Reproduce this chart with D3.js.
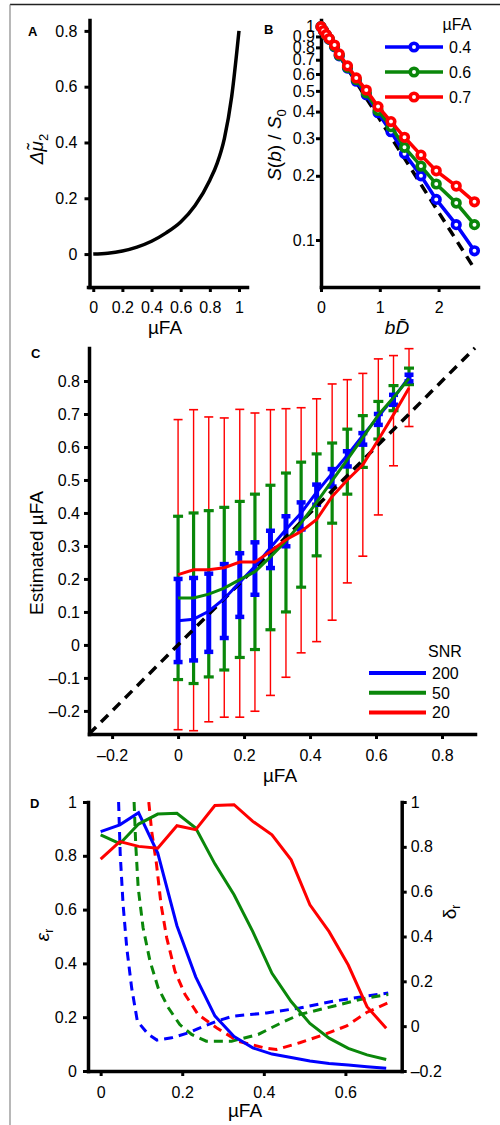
<!DOCTYPE html>
<html><head><meta charset="utf-8">
<script src="https://cdn.jsdelivr.net/npm/d3@7"></script>
<style>
body{margin:0;background:#fff}
svg{display:block}
text{font-family:"Liberation Sans",Arial,Helvetica,sans-serif;fill:#000}
</style>
</head><body>
<svg id="fig" width="500" height="1125"></svg>
<script>
// ---------------- DATA ----------------
// Panel A
const aMuFA = [0, 0.1, 0.2, 0.3, 0.4, 0.5, 0.6, 0.7, 0.8, 0.85, 0.9, 0.95, 1.0];
const aDeltaMu = [0, 0.003, 0.011, 0.025, 0.046, 0.076, 0.115, 0.175, 0.265, 0.325, 0.415, 0.565, 0.8];
const aXTicks = [0, 0.2, 0.4, 0.6, 0.8, 1];
const aXLabels = ["0", "0.2", "0.4", "0.6", "0.8", "1"];
const aYTicks = [0, 0.2, 0.4, 0.6, 0.8];
const aYLabels = ["0", "0.2", "0.4", "0.6", "0.8"];

// Panel B
const bBD = [0, 0.04, 0.09, 0.14, 0.23, 0.31, 0.45, 0.6, 0.77, 0.97, 1.19, 1.42, 1.7, 1.96, 2.3, 2.61];
const bS04 = [1, 0.96, 0.915, 0.872, 0.805, 0.73, 0.64, 0.555, 0.48, 0.395, 0.322, 0.254, 0.2, 0.155, 0.118, 0.089];
const bS06 = [1, 0.96, 0.915, 0.875, 0.81, 0.735, 0.645, 0.565, 0.49, 0.405, 0.34, 0.272, 0.222, 0.183, 0.149, 0.118];
const bS07 = [1, 0.96, 0.92, 0.88, 0.82, 0.745, 0.655, 0.575, 0.505, 0.422, 0.359, 0.303, 0.25, 0.211, 0.179, 0.151];
const bRefBD = [0, 2.6];
const bRefS = [1, 0.074];
const bLegend = ["0.4", "0.6", "0.7"];
const bXTicks = [0, 1, 2];
const bXLabels = ["0", "1", "2"];
const bYTicks = [1, 0.9, 0.8, 0.7, 0.6, 0.5, 0.4, 0.3, 0.2, 0.1];
const bYLabels = ["1", "0.9", "0.8", "0.7", "0.6", "0.5", "0.4", "0.3", "0.2", "0.1"];

// Panel C
const cMuFA = [0, 0.047, 0.093, 0.14, 0.187, 0.233, 0.28, 0.327, 0.373, 0.42, 0.467, 0.513, 0.56, 0.607, 0.653, 0.7];
const cMean200 = [0.073, 0.078, 0.102, 0.14, 0.19, 0.238, 0.295, 0.35, 0.4, 0.463, 0.52, 0.575, 0.635, 0.692, 0.748, 0.812];
const cLo200 = [-0.052, -0.047, -0.021, 0.021, 0.085, 0.152, 0.233, 0.299, 0.35, 0.425, 0.48, 0.541, 0.607, 0.667, 0.728, 0.799];
const cHi200 = [0.2, 0.203, 0.216, 0.245, 0.278, 0.311, 0.346, 0.39, 0.432, 0.486, 0.533, 0.587, 0.642, 0.7, 0.758, 0.819];
const cMean50 = [0.142, 0.142, 0.154, 0.172, 0.198, 0.222, 0.267, 0.315, 0.37, 0.432, 0.498, 0.562, 0.628, 0.697, 0.75, 0.808];
const cLo50 = [-0.105, -0.117, -0.097, -0.076, -0.038, -0.014, 0.046, 0.1, 0.175, 0.27, 0.369, 0.457, 0.538, 0.624, 0.71, 0.789];
const cHi50 = [0.39, 0.4, 0.407, 0.417, 0.435, 0.457, 0.484, 0.521, 0.554, 0.579, 0.612, 0.654, 0.695, 0.738, 0.786, 0.839];
const cMean20 = [0.213, 0.228, 0.228, 0.234, 0.251, 0.251, 0.283, 0.319, 0.344, 0.38, 0.45, 0.5, 0.546, 0.622, 0.698, 0.779];
const cLo20 = [-0.257, -0.26, -0.233, -0.219, -0.219, -0.201, -0.153, -0.098, -0.024, 0.01, 0.075, 0.188, 0.269, 0.394, 0.543, 0.662];
const cHi20 = [0.683, 0.713, 0.691, 0.688, 0.714, 0.703, 0.713, 0.716, 0.719, 0.746, 0.791, 0.804, 0.823, 0.867, 0.877, 0.898];
const cRef = [-0.27, 0.9];
const cLegend = ["200", "50", "20"];
const cXTicks = [-0.2, 0, 0.2, 0.4, 0.6, 0.8];
const cXLabels = ["\u20130.2", "0", "0.2", "0.4", "0.6", "0.8"];
const cYTicks = [-0.2, -0.1, 0, 0.1, 0.2, 0.3, 0.4, 0.5, 0.6, 0.7, 0.8];
const cYLabels = ["\u20130.2", "\u20130.1", "0", "0.1", "0.2", "0.3", "0.4", "0.5", "0.6", "0.7", "0.8"];

// Panel D
const dMuFA = [0, 0.047, 0.093, 0.14, 0.187, 0.233, 0.28, 0.327, 0.373, 0.42, 0.467, 0.513, 0.56, 0.607, 0.653, 0.7];
const dEps200 = [0.89, 0.915, 0.96, 0.81, 0.54, 0.35, 0.205, 0.128, 0.086, 0.063, 0.05, 0.037, 0.028, 0.022, 0.016, 0.01];
const dEps50 = [0.878, 0.845, 0.918, 0.955, 0.958, 0.903, 0.77, 0.655, 0.518, 0.363, 0.258, 0.177, 0.122, 0.084, 0.06, 0.043];
const dEps20 = [0.788, 0.853, 0.835, 0.828, 0.912, 0.897, 0.987, 0.99, 0.928, 0.878, 0.785, 0.618, 0.518, 0.394, 0.239, 0.159];
const dDelta200X = [0.044, 0.048, 0.055, 0.064, 0.076, 0.09, 0.117, 0.138, 0.174, 0.215, 0.239, 0.284, 0.325, 0.407, 0.488, 0.57, 0.652, 0.705];
const dDelta200 = [1.0, 0.767, 0.543, 0.35, 0.171, 0.022, -0.037, -0.062, -0.052, -0.03, -0.011, 0.022, 0.045, 0.059, 0.081, 0.111, 0.134, 0.148];
const dDelta50X = [0.082, 0.086, 0.092, 0.104, 0.121, 0.141, 0.166, 0.194, 0.223, 0.259, 0.321, 0.386, 0.443, 0.488, 0.57, 0.652, 0.705];
const dDelta50 = [1.0, 0.811, 0.618, 0.439, 0.29, 0.171, 0.082, 0.007, -0.037, -0.067, -0.067, -0.037, 0.015, 0.052, 0.089, 0.126, 0.141];
const dDelta20X = [0.118, 0.125, 0.137, 0.148, 0.162, 0.182, 0.207, 0.239, 0.284, 0.337, 0.402, 0.431, 0.488, 0.55, 0.603, 0.652, 0.705];
const dDelta20 = [1.0, 0.871, 0.722, 0.543, 0.394, 0.246, 0.141, 0.052, -0.007, -0.067, -0.097, -0.104, -0.074, -0.036, 0.001, 0.061, 0.105];
const dXTicks = [0, 0.2, 0.4, 0.6];
const dXLabels = ["0", "0.2", "0.4", "0.6"];
const dLTicks = [0, 0.2, 0.4, 0.6, 0.8, 1];
const dLLabels = ["0", "0.2", "0.4", "0.6", "0.8", "1"];
const dRTicks = [-0.2, 0, 0.2, 0.4, 0.6, 0.8, 1];
const dRLabels = ["\u20130.2", "0", "0.2", "0.4", "0.6", "0.8", "1"];

// ---------------- DRAWING ----------------
const BLUE = "#0000ff", GREEN = "#0a870a", RED = "#ff0000";
const FONT = '"Liberation Sans",Arial,Helvetica,sans-serif';
const svg = d3.select("#fig");

// frame
svg.append("line").attr("x1", 10).attr("x2", 500).attr("y1", 4.5).attr("y2", 4.5).attr("stroke", "#222").attr("stroke-width", 1.3);
svg.append("line").attr("x1", 10).attr("x2", 10).attr("y1", 4.5).attr("y2", 1125).attr("stroke", "#888").attr("stroke-width", 1.2);

function drawAxis(gen, tx, ty, ticks, labels, pad, fs) {
  const g = svg.append("g").attr("transform", `translate(${tx},${ty})`)
    .call(gen.tickValues(ticks).tickFormat((d, i) => labels[i]).tickSizeInner(5).tickSizeOuter(0).tickPadding(pad));
  g.attr("font-family", null).attr("font-size", null);
  g.select(".domain").attr("stroke", "#000").attr("stroke-width", 3.5).attr("stroke-linecap", "square");
  g.selectAll(".tick line").attr("stroke", "#000").attr("stroke-width", 3);
  g.selectAll(".tick text").attr("fill", "#000").style("font-family", FONT).style("font-size", (fs || 16) + "px");
  return g;
}
function label(x, y, txt, opts) {
  opts = opts || {};
  const t = svg.append("text").attr("x", x).attr("y", y).attr("text-anchor", opts.anchor || "middle")
    .style("font-size", (opts.size || 19) + "px");
  if (opts.bold) t.style("font-weight", "bold");
  if (opts.italic) t.style("font-style", "italic");
  if (opts.rotate) t.attr("transform", `rotate(-90,${x},${y})`);
  t.text(txt);
  return t;
}

// ===== Panel A =====
const xA = d3.scaleLinear().domain([-0.036, 1.055]).range([88, 247]);
const yA = d3.scaleLinear().domain([-0.118, 0.839]).range([287, 20]);
drawAxis(d3.axisBottom(xA), 0, 287, aXTicks, aXLabels, 10);
drawAxis(d3.axisLeft(yA), 89.5, 0, aYTicks, aYLabels, 7);
svg.append("path").datum(aMuFA.map((m, i) => [m, aDeltaMu[i]]))
  .attr("fill", "none").attr("stroke", "#000").attr("stroke-width", 3.5)
  .attr("d", d3.line().x(d => xA(d[0])).y(d => yA(d[1])).curve(d3.curveMonotoneX));
label(165, 334, "\u00b5FA", {size: 19});
{
  const t = svg.append("text").attr("transform", "translate(43,149) rotate(-90)").attr("text-anchor", "middle").style("font-size", "19px");
  t.append("tspan").style("font-style", "italic").text("\u0394\u03bc\u0303");
  t.append("tspan").attr("dy", 5).style("font-size", "13px").text("2");
}
label(28, 36, "A", {size: 13, bold: true, anchor: "start"});

// ===== Panel B =====
const xB = d3.scaleLinear().domain([0, 2.67]).range([321, 478]);
const yB = d3.scaleLog().domain([0.0602, 1.075]).range([287, 20]);
drawAxis(d3.axisBottom(xB), 0, 287, bXTicks, bXLabels, 10);
drawAxis(d3.axisLeft(yB), 321, 0, bYTicks, bYLabels, 1);
svg.append("path").datum(bRefBD.map((b, i) => [b, bRefS[i]]))
  .attr("fill", "none").attr("stroke", "#000").attr("stroke-width", 3.5).attr("stroke-dasharray", "10,7")
  .attr("d", d3.line().x(d => xB(d[0])).y(d => yB(d[1])));
const bSeries = [[bS04, BLUE], [bS06, GREEN], [bS07, RED]];
bSeries.forEach(([vals, col]) => {
  const pts = bBD.map((b, i) => [b, vals[i]]);
  svg.append("path").datum(pts).attr("fill", "none").attr("stroke", col).attr("stroke-width", 3.5)
    .attr("d", d3.line().x(d => xB(d[0])).y(d => yB(d[1])));
  svg.append("g").selectAll("circle").data(pts).join("circle")
    .attr("cx", d => xB(d[0])).attr("cy", d => yB(d[1])).attr("r", 3.8)
    .attr("fill", "#fff").attr("stroke", col).attr("stroke-width", 3.6);
});
label(457, 30, "\u00b5FA", {size: 16});
bLegend.forEach((lab, i) => {
  const y = 47 + i * 25, col = bSeries[i][1];
  svg.append("line").attr("x1", 385).attr("x2", 443).attr("y1", y).attr("y2", y).attr("stroke", col).attr("stroke-width", 3.5);
  svg.append("circle").attr("cx", 414).attr("cy", y).attr("r", 3.8).attr("fill", "#fff").attr("stroke", col).attr("stroke-width", 3.6);
  label(449, y + 6, lab, {size: 16, anchor: "start"});
});
{
  const t = svg.append("text").attr("transform", "translate(281,145) rotate(-90)").attr("text-anchor", "middle").style("font-size", "19px");
  t.append("tspan").style("font-style", "italic").text("S");
  t.append("tspan").text("(");
  t.append("tspan").style("font-style", "italic").text("b");
  t.append("tspan").text(")\u00a0/\u00a0");
  t.append("tspan").style("font-style", "italic").text("S");
  t.append("tspan").attr("dy", 5).style("font-size", "13px").text("0");
}
{
  const t = svg.append("text").attr("x", 397).attr("y", 334).attr("text-anchor", "middle").style("font-size", "19px").style("font-style", "italic");
  t.text("bD\u0304");
}
label(264, 34, "B", {size: 13, bold: true, anchor: "start"});

// ===== Panel C =====
const xC = d3.scaleLinear().domain([-0.27, 0.9]).range([89, 475]);
const yC = d3.scaleLinear().domain([-0.27, 0.9]).range([734, 348]);
drawAxis(d3.axisBottom(xC), 0, 734, cXTicks, cXLabels, 11);
drawAxis(d3.axisLeft(yC), 89, 0, cYTicks, cYLabels, 4);
const cSeries = [
  {mean: cMean20, lo: cLo20, hi: cHi20, col: RED, bw: 1.4, cw: 4.5},
  {mean: cMean50, lo: cLo50, hi: cHi50, col: GREEN, bw: 3.2, cw: 5},
  {mean: cMean200, lo: cLo200, hi: cHi200, col: BLUE, bw: 5, cw: 4.5}
];
cSeries.forEach(s => {
  const g = svg.append("g").attr("stroke", s.col);
  cMuFA.forEach((m, i) => {
    const x = xC(m);
    g.append("line").attr("x1", x).attr("x2", x).attr("y1", yC(s.lo[i])).attr("y2", yC(s.hi[i])).attr("stroke-width", s.bw);
    [s.lo[i], s.hi[i]].forEach(v => {
      g.append("line").attr("x1", x - s.cw).attr("x2", x + s.cw).attr("y1", yC(v)).attr("y2", yC(v)).attr("stroke-width", s.bw === 5 ? 4.5 : Math.max(s.bw, 1.6));
    });
  });
});
svg.append("path").datum(cRef.map(v => [v, v]))
  .attr("fill", "none").attr("stroke", "#000").attr("stroke-width", 3.5).attr("stroke-dasharray", "10,7")
  .attr("d", d3.line().x(d => xC(d[0])).y(d => yC(d[1])));
[cSeries[2], cSeries[1], cSeries[0]].forEach(s => {
  svg.append("path").datum(cMuFA.map((m, i) => [m, s.mean[i]]))
    .attr("fill", "none").attr("stroke", s.col).attr("stroke-width", 3)
    .attr("d", d3.line().x(d => xC(d[0])).y(d => yC(d[1])));
});
label(445, 657, "SNR", {size: 16});
[BLUE, GREEN, RED].forEach((col, i) => {
  const y = 673 + i * 19.7;
  svg.append("line").attr("x1", 369).attr("x2", 426).attr("y1", y).attr("y2", y).attr("stroke", col).attr("stroke-width", 4);
  label(432, y + 6, cLegend[i], {size: 16, anchor: "start"});
});
label(43, 553, "Estimated \u00b5FA", {size: 19, rotate: true});
label(280, 782, "\u00b5FA", {size: 19});
label(31, 358, "C", {size: 13, bold: true, anchor: "start"});

// ===== Panel D =====
const xD = d3.scaleLinear().domain([-0.031, 0.738]).range([88, 401.7]);
const yDL = d3.scaleLinear().domain([0, 1]).range([1071, 802]);
const yDR = d3.scaleLinear().domain([-0.2, 1]).range([1071, 802]);
drawAxis(d3.axisBottom(xD), 0, 1071, dXTicks, dXLabels, 11);
drawAxis(d3.axisLeft(yDL), 88, 0, dLTicks, dLLabels, 6);
drawAxis(d3.axisRight(yDR), 401.7, 0, dRTicks, dRLabels, 4);
svg.append("clipPath").attr("id", "clipD").append("rect").attr("x", 88).attr("y", 802).attr("width", 314).attr("height", 270);
const gD = svg.append("g").attr("clip-path", "url(#clipD)");
[[dDelta200X, dDelta200, BLUE], [dDelta50X, dDelta50, GREEN], [dDelta20X, dDelta20, RED]].forEach(([xs, ys, col]) => {
  gD.append("path").datum(xs.map((x, i) => [x, ys[i]]))
    .attr("fill", "none").attr("stroke", col).attr("stroke-width", 3).attr("stroke-dasharray", "9,6")
    .attr("d", d3.line().x(d => xD(d[0])).y(d => yDR(d[1])));
});
[[dEps200, BLUE], [dEps50, GREEN], [dEps20, RED]].forEach(([ys, col]) => {
  gD.append("path").datum(dMuFA.map((x, i) => [x, ys[i]]))
    .attr("fill", "none").attr("stroke", col).attr("stroke-width", 3)
    .attr("d", d3.line().x(d => xD(d[0])).y(d => yDL(d[1])));
});
{
  const t = svg.append("text").attr("transform", "translate(49,935) rotate(-90)").attr("text-anchor", "middle").style("font-size", "19px");
  t.append("tspan").style("font-style", "italic").text("\u03b5");
  t.append("tspan").attr("dy", 4).style("font-size", "12px").text("r");
}
{
  const t = svg.append("text").attr("transform", "translate(456,912) rotate(-90)").attr("text-anchor", "middle").style("font-size", "19px");
  t.append("tspan").text("\u03b4");
  t.append("tspan").attr("dy", 4).style("font-size", "12px").text("r");
}
label(245, 1117, "\u00b5FA", {size: 19});
label(30, 808, "D", {size: 13, bold: true, anchor: "start"});
</script>
</body></html>
